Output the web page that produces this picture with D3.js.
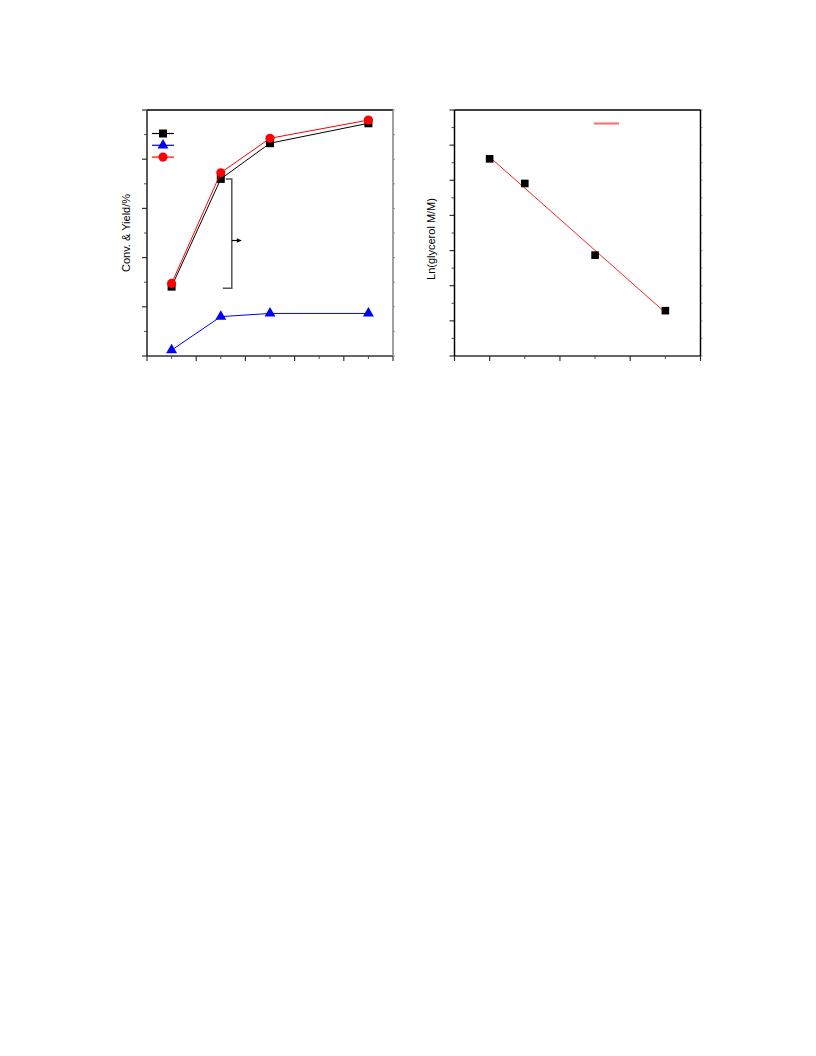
<!DOCTYPE html>
<html><head><meta charset="utf-8">
<script src="https://cdn.jsdelivr.net/npm/d3@7"></script>
<style>body{margin:0;background:#fff}svg{display:block}</style>
</head><body>
<script>
// Left panel data
const timeL = [0.5, 1.5, 2.5, 4.5];
const convGly = [28.2, 72.0, 86.5, 94.6];      // black squares
const yieldBlue = [2.4, 16.0, 17.3, 17.3];     // blue triangles
const yieldRed = [29.5, 74.5, 88.5, 95.9];     // red circles
// Right panel data
const timeR = [0, 0.5, 1.5, 2.5];
const lnGly = [5.61, 4.91, 2.87, 1.29];
const labelL = "Conv. & Yield/%";
const labelR = "Ln(glycerol M/M)";

const svg = d3.select("body").append("svg").attr("width", 816).attr("height", 1056);
const font = "'Liberation Sans', Arial, sans-serif";

function frame(g, x, y, xMaj, xMin, yMaj, yMin, rightColor, leftColor, bottomColor) {
  const [x0, x1] = x.range(), [y0, y1] = y.range();
  xMaj.forEach(v => g.append("line").attr("x1", x(v)).attr("x2", x(v)).attr("y1", y0).attr("y2", y0 + 5).attr("stroke", "#333").attr("stroke-width", 1.2));
  xMin.forEach(v => g.append("line").attr("x1", x(v)).attr("x2", x(v)).attr("y1", y0).attr("y2", y0 + 3).attr("stroke", "#555").attr("stroke-width", 1));
  yMaj.forEach(v => g.append("line").attr("x1", x0 - 5).attr("x2", x0).attr("y1", y(v)).attr("y2", y(v)).attr("stroke", "#333").attr("stroke-width", 1.2));
  yMin.forEach(v => g.append("line").attr("x1", x0 - 3).attr("x2", x0).attr("y1", y(v)).attr("y2", y(v)).attr("stroke", "#555").attr("stroke-width", 1));
  yMaj.concat(yMin).forEach(v => g.append("line").attr("x1", x1).attr("x2", x1 + 2).attr("y1", y(v)).attr("y2", y(v)).attr("stroke", "#999").attr("stroke-width", 1));
  g.append("line").attr("x1", x0).attr("x2", x1).attr("y1", y1).attr("y2", y1).attr("stroke", "#000").attr("stroke-width", 1.3);
  g.append("line").attr("x1", x0).attr("x2", x1).attr("y1", y0).attr("y2", y0).attr("stroke", bottomColor).attr("stroke-width", 1.5);
  g.append("line").attr("x1", x0).attr("x2", x0).attr("y1", y0).attr("y2", y1).attr("stroke", leftColor).attr("stroke-width", 1.5);
  g.append("line").attr("x1", x1).attr("x2", x1).attr("y1", y0).attr("y2", y1).attr("stroke", rightColor).attr("stroke-width", 1.5);
}

// ---------- Left panel ----------
const gL = svg.append("g");
const xL = d3.scaleLinear().domain([0, 5]).range([147, 393]);
const yL = d3.scaleLinear().domain([0, 100]).range([356, 110]);
frame(gL, xL, yL, [0,1,2,3,4,5], [0.5,1.5,2.5,3.5,4.5], [0,20,40,60,80,100], [10,30,50,70,90], "#808080", "#222", "#333");

const sq = d3.symbol().type(d3.symbolSquare).size(64);
const tri = d3.symbol().type(d3.symbolTriangle).size(52);
const cir = d3.symbol().type(d3.symbolCircle).size(66);

function series(g, xs, ys, x, y, color, sym) {
  const pts = xs.map((v, i) => [v, ys[i]]);
  g.append("path").attr("d", d3.line().x(d => x(d[0])).y(d => y(d[1]))(pts))
    .attr("fill", "none").attr("stroke", color).attr("stroke-width", 1);
  g.selectAll(null).data(pts).enter().append("path").attr("d", sym)
    .attr("transform", d => `translate(${x(d[0])},${y(d[1])})`).attr("fill", color);
}
series(gL, timeL, convGly, xL, yL, "#000", sq);
series(gL, timeL, yieldRed, xL, yL, "#ff0000", cir);
series(gL, timeL, yieldBlue, xL, yL, "#0000ff", tri);

// legend
const legItems = [["#000", sq], ["#0000ff", tri], ["#ff0000", cir]];
legItems.forEach((d, i) => {
  const ly = 133.5 + i * 11.8;
  gL.append("line").attr("x1", 152).attr("x2", 174).attr("y1", ly).attr("y2", ly).attr("stroke", d[0]).attr("stroke-width", 1.2);
  gL.append("path").attr("d", d[1]).attr("transform", `translate(163,${ly})`).attr("fill", d[0]);
});

// bracket annotation
const bx = xL(timeL[1]) + 11;
const bTop = yL(convGly[1]), bBot = yL(convGly[0]) + 1.5;
gL.append("path").attr("d", `M${bx - 6},${bTop}H${bx}V${bBot}H${bx - 9}`)
  .attr("fill", "none").attr("stroke", "#555").attr("stroke-width", 1.5);
const bMid = (bTop + bBot) / 2 + 7;
gL.append("line").attr("x1", bx).attr("x2", bx + 7).attr("y1", bMid).attr("y2", bMid).attr("stroke", "#000").attr("stroke-width", 1.2);
gL.append("path").attr("d", `M${bx + 10},${bMid}L${bx + 5},${bMid - 2.2}L${bx + 5},${bMid + 2.2}Z`).attr("fill", "#000");

svg.append("text").attr("transform", "translate(130,233) rotate(-90)").attr("text-anchor", "middle")
  .attr("font-family", font).attr("font-size", 11).attr("fill", "#000").text(labelL);

// ---------- Right panel ----------
const gR = svg.append("g");
const xR = d3.scaleLinear().domain([-0.5, 3]).range([454.5, 700.5]);
const yR = d3.scaleLinear().domain([0, 7]).range([356, 110]);
frame(gR, xR, yR, [-0.5,0,1,2,3], [0.5,1.5,2.5], [0,1,2,3,4,5,6,7], [0.5,1.5,2.5,3.5,4.5,5.5,6.5], "#000", "#000", "#333");

// linear fit
const mx = d3.mean(timeR), my = d3.mean(lnGly);
const slope = d3.sum(timeR, (v, i) => (v - mx) * (lnGly[i] - my)) / d3.sum(timeR, v => (v - mx) ** 2);
const icpt = my - slope * mx;
const xFit = d3.extent(timeR);
gR.append("line").attr("x1", xR(xFit[0])).attr("x2", xR(xFit[1]))
  .attr("y1", yR(icpt + slope * xFit[0])).attr("y2", yR(icpt + slope * xFit[1]))
  .attr("stroke", "#ff2020").attr("stroke-width", 1);
gR.selectAll(null).data(timeR.map((v, i) => [v, lnGly[i]])).enter().append("path")
  .attr("d", d3.symbol().type(d3.symbolSquare).size(58))
  .attr("transform", d => `translate(${xR(d[0])},${yR(d[1])})`).attr("fill", "#000");
// legend line
gR.append("line").attr("x1", 594).attr("x2", 619).attr("y1", 123.5).attr("y2", 123.5).attr("stroke", "#ff6a6a").attr("stroke-width", 2);

svg.append("text").attr("transform", "translate(435,239) rotate(-90)").attr("text-anchor", "middle")
  .attr("font-family", font).attr("font-size", 11).attr("fill", "#000").text(labelR);
</script>
</body></html>
